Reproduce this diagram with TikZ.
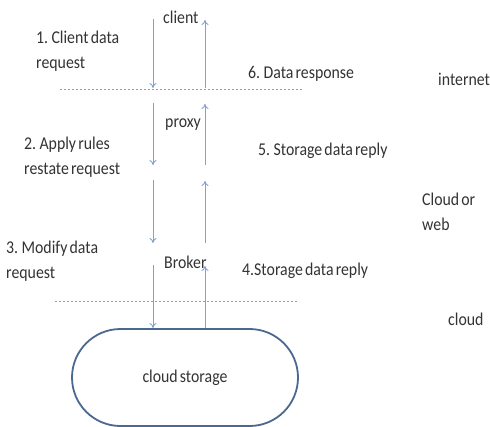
\documentclass[tikz,border=0pt]{standalone}
\usepackage{fontspec}
\setmainfont{Carlito}[FakeStretch=0.88,WordSpace=0.6]
\usetikzlibrary{arrows.meta,shapes.misc}

\definecolor{flowblue}{HTML}{7FA2D2}
\definecolor{edgeblue}{HTML}{4A6890}
\definecolor{txtgray}{HTML}{333333}

\begin{document}
\begin{tikzpicture}[x=1pt,y=-1pt,>={To[length=5pt,width=7pt]},
            font=\fontsize{18}{25}\selectfont,text=txtgray,
            flow/.style={->,draw=flowblue,line width=0.9pt},
            sep line/.style={draw=flowblue,line width=0.8pt,dash pattern=on 2pt off 2pt},
            lbl/.style={anchor=base west,inner sep=0pt,align=left}]

        \useasboundingbox (0,0) rectangle (490,426);

        % Define vertices
        \node[lbl] (client) at (163,23) {client};
        \node[lbl] (proxy) at (165,127) {proxy};
        \node[lbl] (broker) at (164,268) {Broker};
        \node[draw=edgeblue,line width=1.8pt,rounded rectangle,
              minimum width=226pt,minimum height=97pt,inner sep=0pt] (storage) at (185,377.5) {cloud storage};

        % Labels (base = last line)
        \node[lbl] (req1) at (36,68) {1. Client data\\request};
        \node[lbl] (req2) at (24,174) {2. Apply rules\\restate request};
        \node[lbl] (req3) at (6,278) {3. Modify data\\request};
        \node[lbl] (rep4) at (242,275) {4.Storage data reply};
        \node[lbl] (rep5) at (258,155) {5. Storage data reply};
        \node[lbl] (rep6) at (248,78) {6. Data response};
        \node[lbl] (internet) at (438,85) {internet};
        \node[lbl] (web) at (422,230) {Cloud or\\web};
        \node[lbl] (cloud) at (448,325) {cloud};

        % Separators
        \coordinate (s1a) at (60,89);
        \coordinate (s1b) at (302,89);
        \coordinate (s2a) at (55,301);
        \coordinate (s2b) at (298,301);
        \draw[sep line] (s1a) -- (s1b);
        \draw[sep line] (s2a) -- (s2b);

        % Draw edges
        \foreach \i/\top/\bot in {1/19/88,2/103/165,3/180/243,4/265/328} {
            \coordinate (dn\i a) at (153,\top);
            \coordinate (dn\i b) at (153,\bot);
            \coordinate (up\i a) at (205,\bot);
            \coordinate (up\i b) at (205,\top+1);
            \draw[flow] (dn\i a) -- (dn\i b);
            \draw[flow] (up\i a) -- (up\i b);
        }

        \end{tikzpicture}
\end{document}
